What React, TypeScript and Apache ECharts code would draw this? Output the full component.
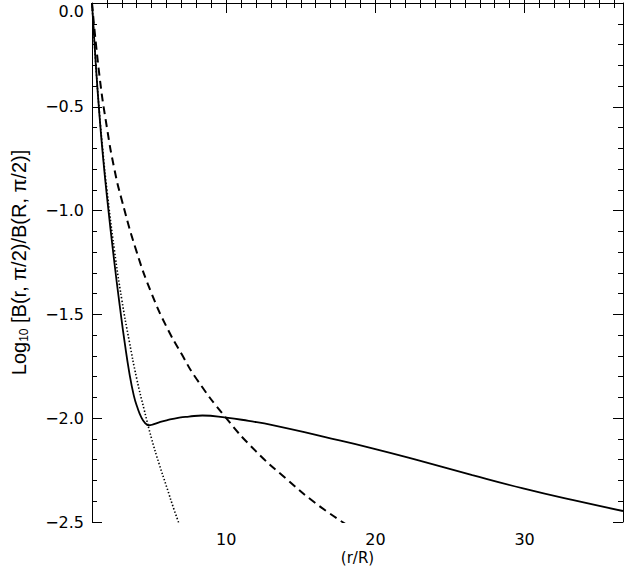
import React, { useEffect, useRef } from "react";
import * as echarts from "echarts";

// Solid curve
const solidX = [1, 1.25, 1.5, 1.75, 2, 2.5, 2.9, 3.2, 3.5, 3.8, 4.05, 4.3, 4.55, 4.8, 5.1, 5.5, 6, 6.85, 7.5, 8.4, 10, 11.5, 13.1, 16.5, 19.8, 23.2, 26.5, 29.9, 33.2, 36.6];
const solidY = [0, -0.29, -0.54, -0.75, -0.93, -1.25, -1.48, -1.64, -1.78, -1.89, -1.95, -1.995, -2.022, -2.034, -2.03, -2.02, -2.01, -1.997, -1.992, -1.987, -1.997, -2.013, -2.033, -2.089, -2.145, -2.209, -2.274, -2.338, -2.394, -2.447];

// Dashed curve
const dashX = [1, 1.5, 2, 2.5, 3, 4, 5, 6, 7, 8, 10, 12, 14, 16, 18];
const dashY = [0, -0.35, -0.6, -0.8, -0.95, -1.2, -1.4, -1.56, -1.69, -1.81, -2.0, -2.16, -2.29, -2.41, -2.51];

// Dotted curve
const dotX = [1, 1.25, 1.5, 1.75, 2, 2.5, 3, 3.5, 4, 4.5, 5, 5.5, 6, 6.5, 7];
const dotY = [0, -0.29, -0.53, -0.73, -0.9, -1.19, -1.43, -1.63, -1.81, -1.96, -2.1, -2.22, -2.33, -2.44, -2.54];

// Axes
const xMin = 1;
const xMax = 36.6;
const xMajorTicks = [10, 20, 30];
const xMinorTicks = [2, 3, 4, 5, 6, 7, 8, 9, 11, 12, 13, 14, 15, 16, 17, 18, 19, 21, 22, 23, 24, 25, 26, 27, 28, 29, 31, 32, 33, 34, 35, 36];
const yMin = -2.5;
const yMax = 0;
const yInterval = 0.5;

const xTitle = "(r/R)";

const pairs = (xs: number[], ys: number[]) => xs.map((x, i) => [x, ys[i]]);

const tickFont = { fontFamily: "DejaVu Sans", fontSize: 16, color: "#000" };
const axisLineStyle = { color: "#000", width: 1 };

export default function App() {
  const ref = useRef<HTMLDivElement>(null);
  useEffect(() => {
    if (!ref.current) return;
    const chart = echarts.init(ref.current, undefined, { renderer: "svg" });
    const baseX = {
      type: "value" as const,
      min: xMin,
      max: xMax,
      splitLine: { show: false },
    };
    chart.setOption({
      animation: false,
      backgroundColor: "#fff",
      grid: { left: 92, right: 1, top: 3, bottom: 45, containLabel: false, outerBoundsMode: "none" },
      xAxis: [
        {
          ...baseX,
          position: "bottom",
          axisLine: { show: true, lineStyle: axisLineStyle },
          axisTick: { show: true, inside: true, length: 10, customValues: xMajorTicks, lineStyle: axisLineStyle },
          axisLabel: { show: true, customValues: xMajorTicks, margin: 9, lineHeight: 16, ...tickFont },
          name: xTitle,
          nameLocation: "middle",
          nameGap: 28,
          nameMoveOverlap: false,
          nameTextStyle: { fontFamily: "DejaVu Sans", fontSize: 15, color: "#000", lineHeight: 15 },
        },
        {
          ...baseX,
          position: "bottom",
          axisLine: { show: false },
          axisTick: { show: true, inside: true, length: 5, customValues: xMinorTicks, lineStyle: axisLineStyle },
          axisLabel: { show: false },
        },
        {
          ...baseX,
          position: "top",
          axisLine: { show: true, lineStyle: axisLineStyle },
          axisTick: { show: true, inside: true, length: 10, customValues: xMajorTicks, lineStyle: axisLineStyle },
          axisLabel: { show: false },
        },
        {
          ...baseX,
          position: "top",
          axisLine: { show: false },
          axisTick: { show: true, inside: true, length: 5, customValues: xMinorTicks, lineStyle: axisLineStyle },
          axisLabel: { show: false },
        },
      ],
      yAxis: [
        {
          type: "value",
          position: "left",
          min: yMin,
          max: yMax,
          interval: yInterval,
          splitLine: { show: false },
          axisLine: { show: true, lineStyle: axisLineStyle },
          axisTick: { show: true, inside: true, length: 10, lineStyle: axisLineStyle },
          minorTick: { show: true, splitNumber: 5, length: 5, lineStyle: axisLineStyle },
          axisLabel: {
            show: true,
            margin: 8,
            ...tickFont,
            verticalAlignMaxLabel: "top",
            formatter: (v: number) => v.toFixed(1).replace("-", "\u2212"),
          },
          name: "{a|Log}{s|10}{a| [B(r, \u03c0/2)/B(R, \u03c0/2)]}",
          nameLocation: "middle",
          nameGap: 62,
          nameRotate: 90,
          nameMoveOverlap: false,
          nameTextStyle: {
            color: "#000",
            rich: {
              a: { fontFamily: "Liberation Sans", fontSize: 20, color: "#000", lineHeight: 22 },
              s: { fontFamily: "Liberation Sans", fontSize: 12, color: "#000", lineHeight: 22, padding: [10, 0, 0, 0] },
            },
          },
        },
        {
          type: "value",
          position: "right",
          min: yMin,
          max: yMax,
          interval: yInterval,
          splitLine: { show: false },
          axisLine: { show: true, lineStyle: axisLineStyle },
          axisTick: { show: true, inside: true, length: 10, lineStyle: axisLineStyle },
          minorTick: { show: true, splitNumber: 5, length: 5, lineStyle: axisLineStyle },
          axisLabel: { show: false },
        },
      ],
      series: [
        {
          type: "line",
          data: pairs(solidX, solidY),
          smooth: true,
          showSymbol: false,
          clip: true,
          lineStyle: { color: "#000", width: 1.8, type: "solid" },
        },
        {
          type: "line",
          data: pairs(dashX, dashY),
          smooth: true,
          showSymbol: false,
          clip: true,
          lineStyle: { color: "#000", width: 2, type: [8, 5] },
        },
        {
          type: "line",
          data: pairs(dotX, dotY),
          smooth: true,
          showSymbol: false,
          clip: true,
          lineStyle: { color: "#000", width: 1.6, type: [1.4, 2] },
        },
      ],
    });
    return () => chart.dispose();
  }, []);
  return (
    <div
      ref={ref}
      style={{ position: "absolute", left: 0, top: 0, width: 624, height: 567, background: "#fff" }}
    />
  );
}
